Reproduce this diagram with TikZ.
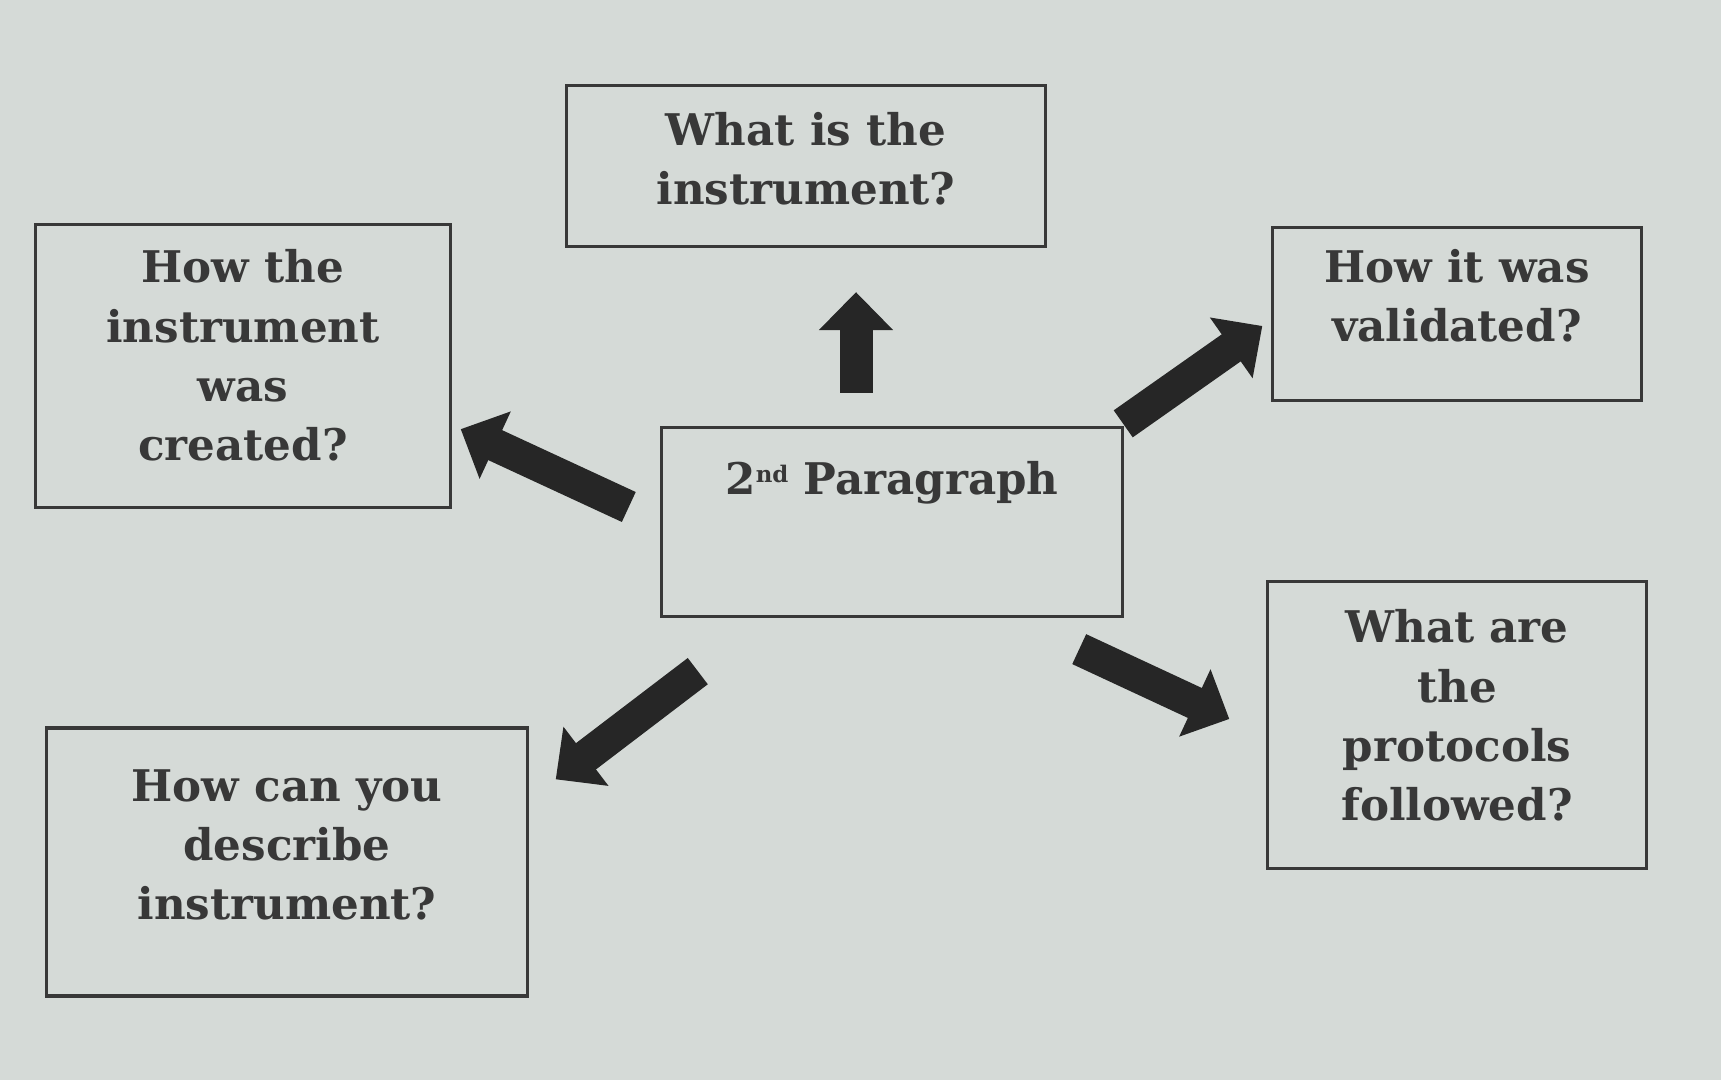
\documentclass[tikz,border=0pt]{standalone}
\usepackage{fontspec}
\setmainfont{DejaVu Serif}
\usetikzlibrary{arrows.meta}
\definecolor{paper}{HTML}{D5DAD7}
\definecolor{ink}{HTML}{383838}
\newcommand{\ordsup}[1]{\raisebox{0.55ex}{\fontsize{6.5}{6.5}\selectfont #1}}
\begin{document}
\begin{tikzpicture}[x=0.01cm,y=-0.01cm,
  qtext/.style={text=ink, align=center, inner sep=0pt, font=\fontsize{12.4}{16.8}\selectfont\bfseries},
  qbox/.style={qtext, draw=ink, line width=0.9pt},
  bigarrow/.style={draw=black!85, line width=0.33cm, -{Triangle[width=0.72cm,length=0.38cm]}}]
\fill[paper] (0,0) rectangle (1721,1080);
\node[qbox, minimum width=4.79cm, minimum height=1.61cm, text depth=0.16cm] (what) at (806,166) {What is the\\instrument?};
\node[qbox, minimum width=4.14cm, minimum height=2.83cm, text depth=0.22cm] (created) at (243,366) {How the\\instrument\\was\\created?};
\node[qbox, minimum width=3.68cm, minimum height=1.73cm, text depth=0.38cm] (valid) at (1457,314) {How it was\\validated?};
\node[qbox, minimum width=4.61cm, minimum height=1.89cm,
  label={[qtext, anchor=north, yshift=-0.35cm]north:2\ordsup{nd} Paragraph}] (para) at (892,522) {};
\node[qbox, minimum width=4.80cm, minimum height=2.68cm, text depth=0.34cm] (describe) at (287,862) {How can you\\describe\\instrument?};
\node[qbox, minimum width=3.78cm, minimum height=2.87cm, text depth=0.2cm] (protocol) at (1457,725) {What are\\the\\protocols\\followed?};
% arrows out of the paragraph box
\draw[bigarrow] ([shift={(-36,-33)}]para.north) -- ([shift={(50,44)}]what.south);
\draw[bigarrow] ([shift={(-31,-15)}]para.west) -- ([shift={(9,-80)}]created.south east);
\draw[bigarrow] ([shift={(-1,-2)}]para.north east) -- ([shift={(-9,12)}]valid.west);
\draw[bigarrow] ([shift={(38,53)}]para.south west) -- ([shift={(27,53)}]describe.north east);
\draw[bigarrow] ([shift={(-45,31)}]para.south east) -- ([shift={(-37,-6)}]protocol.west);
\end{tikzpicture}
\end{document}
